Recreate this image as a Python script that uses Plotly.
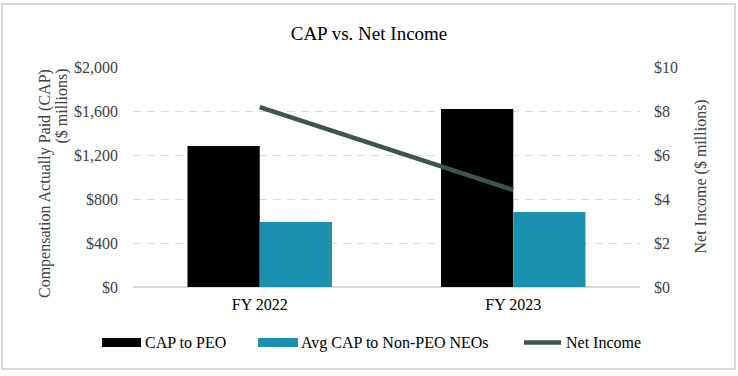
import plotly.graph_objects as go

categories = ["FY 2022", "FY 2023"]
cap_peo = [1282, 1618]
cap_non_peo = [591, 682]
net_income = [8.18, 4.41]

left_ticks = [0, 400, 800, 1200, 1600, 2000]
left_labels = ["$0", "$400", "$800", "$1,200", "$1,600", "$2,000"]
right_ticks = [0, 2, 4, 6, 8, 10]
right_labels = ["$0", "$2", "$4", "$6", "$8", "$10"]

series_names = ["CAP to PEO", "Avg CAP to Non-PEO NEOs", "Net Income"]
series_colors = ["#000000", "#1b90b1", "#3b5552"]

FONT = "Liberation Serif"
TICK_COLOR = "#404040"

W, H = 738, 376
L, R, T, B = 133, 98, 67, 89
PW, PH = W - L - R, H - T - B


def px(x):
    return (x - L) / PW


def py(y):
    return (H - B - y) / PH


fig = go.Figure()
fig.add_trace(go.Bar(x=categories, y=cap_peo, name=series_names[0],
                     marker=dict(color=series_colors[0], line=dict(width=0))))
fig.add_trace(go.Bar(x=categories, y=cap_non_peo, name=series_names[1],
                     marker=dict(color=series_colors[1], line=dict(width=0))))
fig.add_trace(go.Scatter(x=categories, y=net_income, name=series_names[2], yaxis="y2",
                         mode="lines", line=dict(color=series_colors[2], width=4.5)))

fig.update_layout(
    width=W, height=H,
    margin=dict(l=L, r=R, t=T, b=B, autoexpand=False),
    paper_bgcolor="white", plot_bgcolor="white",
    font=dict(family=FONT, color="#000000"),
    title=dict(text="CAP vs. Net Income", x=0.5, xanchor="center", y=1 - 33 / H, yanchor="middle",
               font=dict(family=FONT, size=19, color="#000000")),
    barmode="group", bargap=0.43, bargroupgap=0,
    showlegend=False,
    xaxis=dict(showgrid=False, showline=False, ticks="", automargin=False, ticklabelstandoff=6,
               tickfont=dict(family=FONT, size=16, color="#000000")),
    yaxis=dict(range=[0, 2000], tickvals=left_ticks, ticktext=left_labels, automargin=False,
               showgrid=True, gridcolor="#d9d9d9", griddash="8px,6px", gridwidth=1.3,
               zeroline=True, zerolinecolor="#d9d9d9", zerolinewidth=1.5,
               showline=False, ticks="", ticklabelstandoff=14,
               tickfont=dict(family=FONT, size=16, color=TICK_COLOR)),
    yaxis2=dict(range=[0, 10], tickvals=right_ticks, ticktext=right_labels, automargin=False,
                overlaying="y", side="right", showgrid=False, zeroline=False,
                showline=False, ticks="", ticklabelstandoff=13,
                tickfont=dict(family=FONT, size=16, color=TICK_COLOR)),
)

# outer border
fig.add_shape(type="rect", xref="paper", yref="paper",
              x0=px(2), x1=px(735), y0=py(369), y1=py(4),
              line=dict(color="#d9d9d9", width=2), fillcolor="rgba(0,0,0,0)", layer="below")

# axis titles
fig.add_annotation(text="Compensation Actually Paid (CAP)", textangle=-90, showarrow=False,
                   xref="paper", yref="paper", x=px(44.5), y=py(67), xanchor="center", yanchor="top",
                   font=dict(family=FONT, size=16, color=TICK_COLOR))
fig.add_annotation(text="($ millions)", textangle=-90, showarrow=False,
                   xref="paper", yref="paper", x=px(61), y=py(67), xanchor="center", yanchor="top",
                   font=dict(family=FONT, size=16, color=TICK_COLOR))
fig.add_annotation(text="Net Income ($ millions)", textangle=-90, showarrow=False,
                   xref="paper", yref="paper", x=px(700), y=py(176.5), xanchor="center", yanchor="middle",
                   font=dict(family=FONT, size=16, color=TICK_COLOR))

# legend (drawn)
leg_y = 342.5
swatches = [(102, 141), (258, 298), (522, 563)]
text_x = [144, 300, 565]
for i, name in enumerate(series_names):
    x0, x1 = swatches[i]
    if i < 2:
        fig.add_shape(type="rect", xref="paper", yref="paper", x0=px(x0), x1=px(x1),
                      y0=py(347), y1=py(338), line=dict(width=0), fillcolor=series_colors[i])
    else:
        fig.add_shape(type="line", xref="paper", yref="paper", x0=px(x0 + 2), x1=px(x1 - 2),
                      y0=py(leg_y), y1=py(leg_y), line=dict(color=series_colors[i], width=4.5))
    fig.add_annotation(text=name, showarrow=False, xref="paper", yref="paper",
                       x=px(text_x[i]), y=py(leg_y), xanchor="left", yanchor="middle", xshift=-1,
                       font=dict(family=FONT, size=16, color="#000000"))

fig.write_html("out.html", config={"displayModeBar": False},
               post_script="document.body.style.margin='0';")
